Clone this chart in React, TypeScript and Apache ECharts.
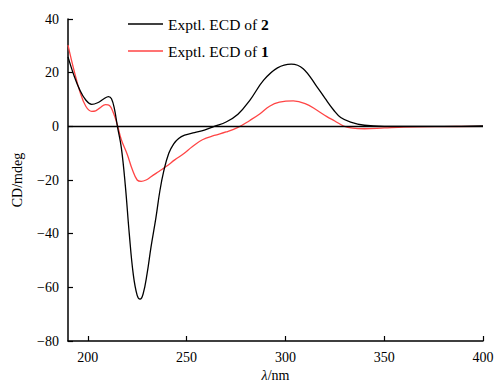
import React, { useEffect, useRef } from "react";
import * as echarts from "echarts";

const wl2 = [190, 193, 196, 199, 202, 205, 208, 210.5, 212, 213.5, 215, 217, 219, 221, 223, 225, 226.5, 228, 230, 232, 234.5, 236.5, 238.5, 241, 243.5, 246, 249, 254, 259, 264, 270, 276, 282, 289, 296, 303, 309, 316, 320, 324.5, 328, 333, 340, 350, 360, 380, 400];
const cd2 = [25.9, 19, 13.5, 9.8, 8.2, 8.8, 10.2, 11.1, 10.3, 6.5, 0, -8, -22, -40, -55, -63, -64.4, -62.5, -55, -45, -34, -24, -16.5, -10, -6.5, -4.5, -3.3, -2.3, -1.4, 0, 1.6, 4.5, 9.7, 17.2, 21.8, 23.2, 21.5, 14.7, 10.5, 6, 3.3, 1.6, 0.4, 0, 0, 0, 0.2];

const wl1 = [190, 193, 196, 199, 202, 204, 206, 209, 211, 213, 215, 217, 220, 222.5, 225, 227, 229.5, 232, 236, 240, 244, 248.5, 253, 258, 264, 270, 276, 282, 287, 292, 297, 304, 310, 316, 321, 325, 329.5, 334, 340, 350, 360, 380, 400];
const cd1 = [30.3, 21, 13, 7.5, 5.6, 5.8, 6.8, 8.1, 7.8, 5, 0.5, -5, -10.5, -16, -20, -20.5, -20, -18.8, -16.8, -14.8, -12.5, -10.2, -7.5, -5, -3.4, -2.1, -0.4, 2.2, 4.6, 7.5, 9, 9.5, 8.5, 6, 3.6, 2, 0.1, -0.7, -0.9, -0.6, -0.3, -0.1, 0];

const xTicks = [200, 250, 300, 350, 400];
const seriesNames = ["Exptl. ECD of 2", "Exptl. ECD of 1"];

const FONT = "Liberation Serif";

export default function App() {
  const ref = useRef<HTMLDivElement>(null);
  useEffect(() => {
    if (!ref.current) return;
    const chart = echarts.init(ref.current, null, { renderer: "svg" });
    const pair = (xs: number[], ys: number[]) => xs.map((x, i) => [x, ys[i]]);
    chart.setOption({
      animation: false,
      backgroundColor: "#fff",
      textStyle: { fontFamily: FONT, color: "#000" },
      grid: { left: 68, right: 13, top: 19, bottom: 41, outerBoundsMode: "none", containLabel: false },
      legend: {
        orient: "vertical",
        left: 123,
        top: 11,
        itemGap: 11,
        itemWidth: 35,
        itemHeight: 1.4,
        icon: "rect",
        data: seriesNames,
        formatter: (name: string) => {
          const m = name.match(/^(.*?)(\d)$/);
          return m ? `{a|${m[1]}}{b|${m[2]}}` : name;
        },
        textStyle: {
          fontFamily: FONT,
          fontSize: 15.5,
          color: "#000",
          padding: [0, 0, 0, 0],
          rich: {
            a: { fontFamily: FONT, fontSize: 15.5, color: "#000" },
            b: { fontFamily: FONT, fontSize: 15.5, fontWeight: "bold", color: "#000" },
          },
        },
      },
      xAxis: {
        type: "value",
        min: 190,
        max: 400,
        name: "{i|λ}/nm",
        nameLocation: "middle",
        nameGap: 27,
        nameTextStyle: {
          fontFamily: FONT,
          fontSize: 14,
          color: "#000",
          rich: { i: { fontFamily: FONT, fontSize: 14, fontStyle: "italic", color: "#000" } },
        },
        axisLine: { onZero: false, lineStyle: { color: "#000", width: 1.5 } },
        axisTick: { inside: true, length: 5, customValues: xTicks, lineStyle: { color: "#000", width: 1.2 } },
        axisLabel: { customValues: xTicks, fontFamily: FONT, fontSize: 14, color: "#000", margin: 9 },
        splitLine: { show: false },
      },
      yAxis: {
        type: "value",
        min: -80,
        max: 40,
        interval: 20,
        name: "CD/mdeg",
        nameLocation: "middle",
        nameGap: 44,
        nameTextStyle: { fontFamily: FONT, fontSize: 14, color: "#000" },
        axisLine: { show: true, onZero: false, lineStyle: { color: "#000", width: 1.5 } },
        axisTick: { show: true, inside: true, length: 5, lineStyle: { color: "#000", width: 1.2 } },
        axisLabel: {
          fontFamily: FONT,
          fontSize: 14,
          color: "#000",
          margin: 9,
          formatter: (v: number) => (v < 0 ? "\u2212" + Math.abs(v) : String(v)),
        },
        splitLine: { show: false },
      },
      series: [
        {
          name: seriesNames[0],
          type: "line",
          data: pair(wl2, cd2),
          smooth: 0.4,
          showSymbol: false,
          symbol: "none",
          lineStyle: { color: "#000", width: 1.3 },
          itemStyle: { color: "#000" },
          z: 3,
          markLine: {
            silent: true,
            symbol: "none",
            label: { show: false },
            lineStyle: { color: "#000", width: 1.3, type: "solid" },
            data: [{ yAxis: 0 }],
          },
        },
        {
          name: seriesNames[1],
          type: "line",
          data: pair(wl1, cd1),
          smooth: 0.4,
          showSymbol: false,
          symbol: "none",
          lineStyle: { color: "#ff4545", width: 1.3 },
          itemStyle: { color: "#ff4545" },
          z: 2,
        },
      ],
    });
    return () => chart.dispose();
  }, []);
  return <div ref={ref} style={{ position: "absolute", left: 0, top: 0, width: 496, height: 382 }} />;
}
